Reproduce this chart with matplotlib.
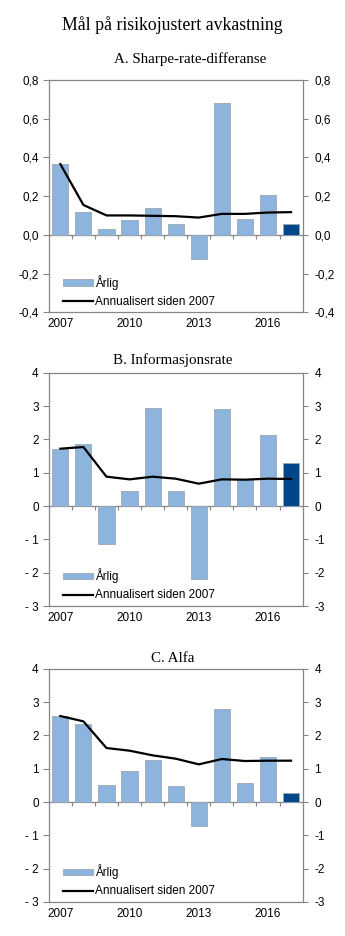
import numpy as np
import matplotlib
matplotlib.use("Agg")
import matplotlib.pyplot as plt
from matplotlib.ticker import FuncFormatter, FixedLocator
from matplotlib.patches import Patch
from matplotlib.lines import Line2D

# Data
years = list(range(2007, 2018))
year_labels = ["2007", "", "", "2010", "", "", "2013", "", "", "2016", ""]

sharpe_annual = [0.364, 0.118, 0.030, 0.077, 0.137, 0.055, -0.125, 0.683, 0.081, 0.209, 0.055]
sharpe_cum = [0.366, 0.155, 0.101, 0.101, 0.099, 0.097, 0.090, 0.109, 0.109, 0.116, 0.118]

ir_annual = [1.72, 1.87, -1.13, 0.46, 2.95, 0.46, -2.20, 2.92, 0.80, 2.14, 1.28]
ir_cum = [1.72, 1.77, 0.88, 0.80, 0.88, 0.82, 0.67, 0.80, 0.79, 0.82, 0.81]

alpha_annual = [2.57, 2.35, 0.52, 0.94, 1.27, 0.49, -0.72, 2.80, 0.58, 1.36, 0.28]
alpha_cum = [2.58, 2.42, 1.62, 1.54, 1.40, 1.30, 1.13, 1.29, 1.23, 1.24, 1.24]

panels = [
    ("A. Sharpe-rate-differanse", sharpe_annual, sharpe_cum, (-0.4, 0.8), np.arange(-0.4, 0.81, 0.2), 1),
    ("B. Informasjonsrate", ir_annual, ir_cum, (-3, 4), np.arange(-3, 4.1, 1), 0),
    ("C. Alfa", alpha_annual, alpha_cum, (-3, 4), np.arange(-3, 4.1, 1), 0),
]

light = "#8cb4dc"
dark = "#00468b"
frame = "#868686"
serif = ["Liberation Serif", "DejaVu Serif"]
sans = ["Liberation Sans", "DejaVu Sans"]

W, H = 345, 936
fig = plt.figure(figsize=(W / 100, H / 100), dpi=100)

# axes boxes in pixels: (top, bottom)
boxes = [(80, 312.5), (372.7, 606), (668.7, 902)]
left_px, right_px = 48.8, 302.6
title_pos = [(190, 59), (173, 360), (172.5, 658)]

fig.text(0.5, 1 - 25 / H, "Mål på risikojustert avkastning", ha="center", va="center",
         fontsize=12.8, family=serif)

x = np.arange(len(years))

for (title, annual, cum, ylim, yticks, dec), (top, bot), (tx, ty) in zip(panels, boxes, title_pos):
    ax = fig.add_axes([left_px / W, 1 - bot / H, (right_px - left_px) / W, (bot - top) / H])
    colors = [light] * (len(years) - 1) + [dark]
    ax.bar(x, annual, width=0.7, color=colors, edgecolor="#9aa7b4", linewidth=0.6, zorder=2)
    ax.plot(x, cum, color="black", lw=1.6, zorder=3)

    ax.set_xlim(-0.5, len(years) - 0.5)
    ax.set_ylim(*ylim)
    ax.set_yticks(yticks)

    if dec:
        fmt_l = FuncFormatter(lambda v, p: f"{v:.1f}".replace(".", ",").replace("-0,0", "0,0"))
        fmt_r = fmt_l
    else:
        fmt_l = FuncFormatter(lambda v, p: f"- {abs(v):.0f}" if v < 0 else f"{v:.0f}")
        fmt_r = FuncFormatter(lambda v, p: f"{v:.0f}")
    ax.yaxis.set_major_formatter(fmt_l)

    ax.set_xticks(x)
    ax.set_xticklabels(year_labels)
    ax.tick_params(axis="x", length=0, pad=4, labelsize=8.5)
    ax.tick_params(axis="y", length=4, width=0.8, color=frame, pad=3.2, labelsize=8.5)
    for s in ax.spines.values():
        s.set_color(frame)
        s.set_linewidth(0.9)
    for lab in ax.get_xticklabels() + ax.get_yticklabels():
        lab.set_family(sans)

    # right axis mirrors the left one
    ax2 = ax.twinx()
    ax2.set_ylim(*ylim)
    ax2.set_yticks(yticks)
    ax2.yaxis.set_major_formatter(fmt_r)
    ax2.tick_params(axis="y", length=3.5, width=0.8, color=frame, pad=5, labelsize=8.5)
    for s in ax2.spines.values():
        s.set_visible(False)
    for lab in ax2.get_yticklabels():
        lab.set_family(sans)

    # category axis crossing at zero with ticks between categories
    zero_pos = (0 - ylim[0]) / (ylim[1] - ylim[0])
    sec = ax.secondary_xaxis(zero_pos)
    sec.xaxis.set_major_locator(FixedLocator(np.arange(0.5, len(years) - 1, 1)))
    sec.xaxis.set_major_formatter(FuncFormatter(lambda v, p: ""))
    sec.tick_params(axis="x", length=3, width=0.8, color=frame, direction="out")
    for s in sec.spines.values():
        s.set_color(frame)
        s.set_linewidth(0.9)

    handles = [Patch(facecolor=light, edgecolor="#9aa7b4", linewidth=0.6),
               Line2D([0], [0], color="black", lw=1.6)]
    ax.legend(handles, ["Årlig", "Annualisert siden 2007"], loc="lower left",
              bbox_to_anchor=(0.036, 0.0), borderaxespad=0, frameon=False,
              handlelength=2.6, handleheight=0.45, handletextpad=0.12,
              labelspacing=0.5, prop={"family": sans, "size": 8.5})

    fig.text(tx / W, 1 - ty / H, title, ha="center", va="center", fontsize=10.8, family=serif)

fig.savefig("out.png", dpi=100)
